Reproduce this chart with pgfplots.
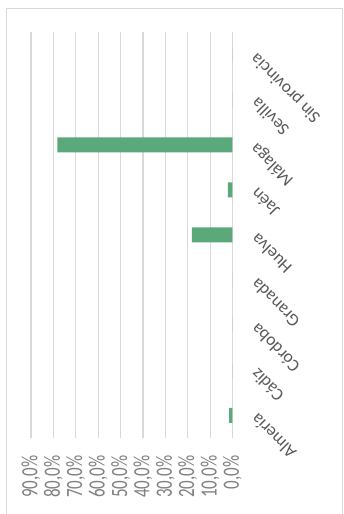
\documentclass[border=0pt]{standalone}
\usepackage{pgfplots}
\pgfplotsset{compat=1.18}
\usepackage{fontspec}
\setmainfont{Carlito}
\definecolor{barg}{RGB}{91,168,123}
\definecolor{gridc}{RGB}{217,217,217}
\definecolor{lblc}{RGB}{89,89,89}
\definecolor{tickc}{RGB}{128,128,128}
\begin{document}
\begin{tikzpicture}
\useasboundingbox (-131.75pt,-76pt) rectangle (211.25pt,438pt);
\draw[gridc, line width=1pt] (-124.75pt,-90pt) -- (-124.75pt,429pt) -- (210.25pt,429pt) -- (210.25pt,-90pt);
\begin{axis}[
  at={(0pt,0pt)}, anchor=south,
  scale only axis, width=201.5pt, height=406pt,
  xbar, bar width=15pt,
  xmin=0, xmax=90, x dir=reverse,
  ymin=-0.5, ymax=8.5,
  ytick={0,...,8},
  yticklabels={Almería,Cádiz,Córdoba,Granada,Huelva,Jaén,Málaga,Sevilla,Sin provincia},
  xtick={0,10,...,90},
  xticklabels={{0,0\%},{10,0\%},{20,0\%},{30,0\%},{40,0\%},{50,0\%},{60,0\%},{70,0\%},{80,0\%},{90,0\%}},
  xmajorgrids, major grid style={gridc, line width=1.2pt},
  axis line style={draw=none},
  major tick length=0pt,
  yticklabel pos=upper,
  xticklabel pos=lower,
  xticklabel style={font=\fontsize{17}{17}\selectfont, text=tickc, yshift=-14pt, xscale=1.37, rotate=90, anchor=east},
  yticklabel style={font=\fontsize{17.5}{17.5}\selectfont, text=lblc, xshift=19pt, yshift=1pt, rotate=135, anchor=east},
]
\addplot[fill=barg, draw=none] coordinates {(1.5,0) (0,1) (0,2) (0,3) (18.1,4) (2.1,5) (78.2,6) (0,7) (0,8)};
\end{axis}
\end{tikzpicture}
\end{document}
